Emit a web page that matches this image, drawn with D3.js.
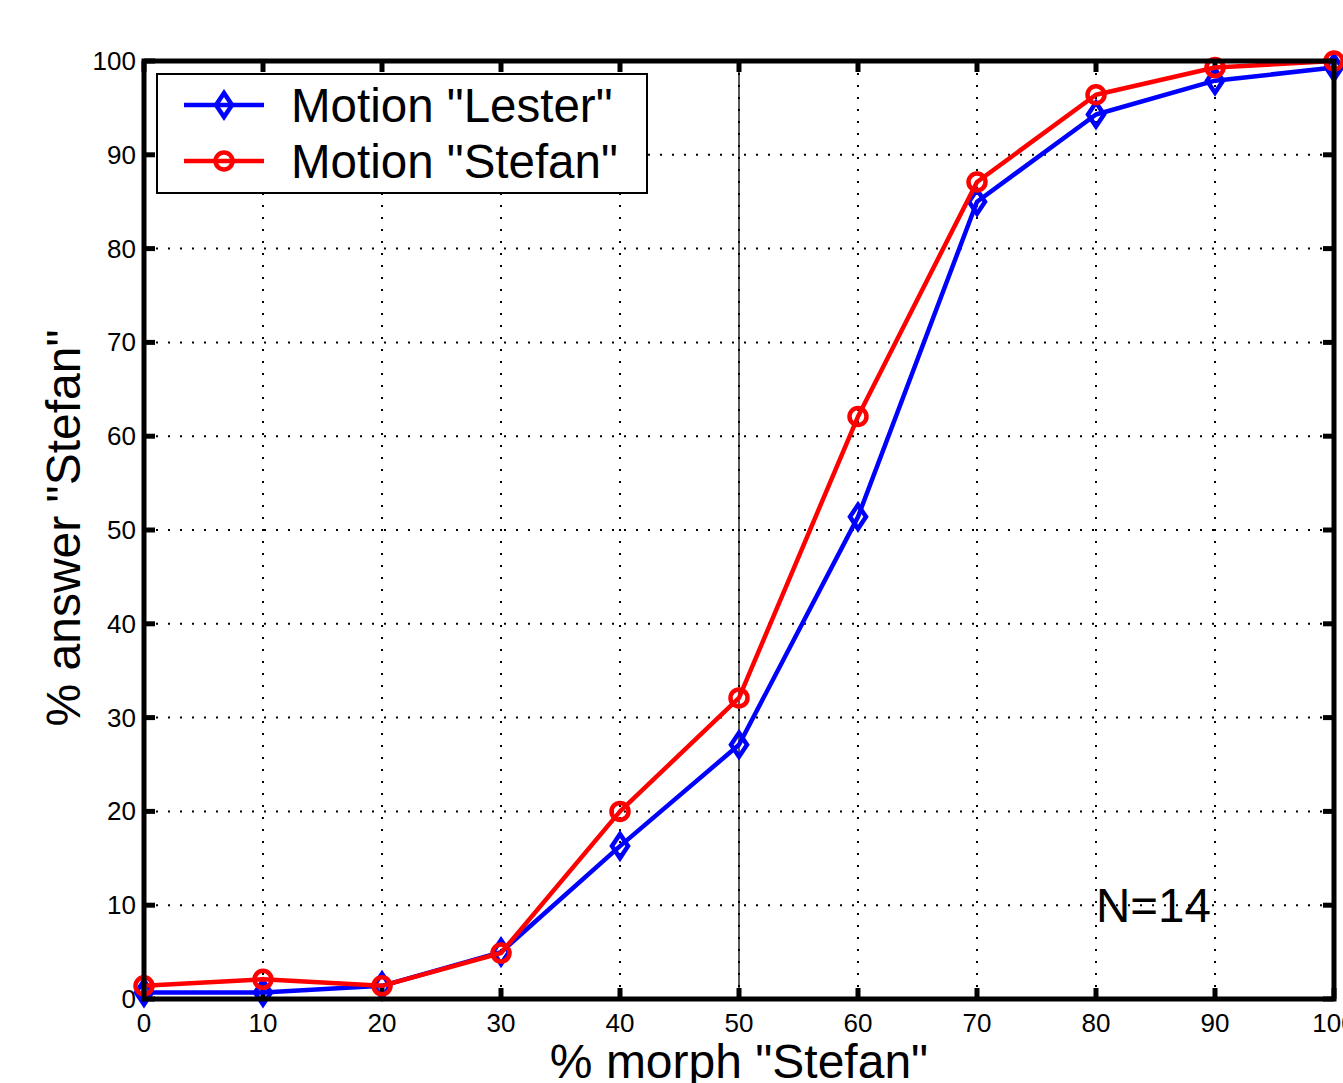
<!DOCTYPE html>
<html>
<head>
<meta charset="utf-8">
<script src="https://cdn.jsdelivr.net/npm/d3@7"></script>
<style>
  body { margin: 0; background: #fff; }
  svg { display: block; font-family: "Liberation Sans", Arial, sans-serif; }
</style>
</head>
<body>
<div id="chart"></div>
<script>
// data
const morph = [0, 10, 20, 30, 40, 50, 60, 70, 80, 90, 100];
const lester = [0.7, 0.7, 1.4, 5.0, 16.3, 27.1, 51.4, 85.0, 94.3, 97.9, 99.3];
const stefan = [1.4, 2.1, 1.4, 4.9, 20.0, 32.1, 62.1, 87.1, 96.4, 99.3, 100];
const xTicks = [0, 10, 20, 30, 40, 50, 60, 70, 80, 90, 100];
const yTicks = [0, 10, 20, 30, 40, 50, 60, 70, 80, 90, 100];
const seriesNames = ['Motion "Lester"', 'Motion "Stefan"'];
const seriesColors = ["#0000ff", "#ff0000"];

const W = 1343, H = 1083;
const margin = {top: 61, right: 9, bottom: 84, left: 144};
const width = 1334 - margin.left, height = 999 - margin.top;

const svg = d3.select("#chart").append("svg")
    .attr("width", W).attr("height", H);

const g = svg.append("g")
    .attr("transform", `translate(${margin.left},${margin.top})`);

const x = d3.scaleLinear().domain([0, 100]).range([0, width]);
const y = d3.scaleLinear().domain([0, 100]).range([height, 0]);

// dotted grid
g.append("g").selectAll("line").data(xTicks.slice(1, -1)).join("line")
    .attr("x1", d => x(d)).attr("x2", d => x(d))
    .attr("y1", 0).attr("y2", height)
    .attr("stroke", "#000").attr("stroke-width", 2)
    .attr("stroke-dasharray", "2,10");
g.append("g").selectAll("line").data(yTicks.slice(1, -1)).join("line")
    .attr("y1", d => y(d)).attr("y2", d => y(d))
    .attr("x1", 0).attr("x2", width)
    .attr("stroke", "#000").attr("stroke-width", 2)
    .attr("stroke-dasharray", "2,10");

// solid reference line at 50%
g.append("line")
    .attr("x1", x(50)).attr("x2", x(50))
    .attr("y1", 0).attr("y2", height)
    .attr("stroke", "#000").attr("stroke-width", 1.3);

// inside ticks on all four sides
const tickLen = 11;
const ticks = g.append("g").attr("stroke", "#000").attr("stroke-width", 5);
xTicks.forEach(t => {
    ticks.append("line").attr("x1", x(t)).attr("x2", x(t)).attr("y1", height).attr("y2", height - tickLen);
    ticks.append("line").attr("x1", x(t)).attr("x2", x(t)).attr("y1", 0).attr("y2", tickLen);
});
yTicks.forEach(t => {
    ticks.append("line").attr("y1", y(t)).attr("y2", y(t)).attr("x1", 0).attr("x2", tickLen);
    ticks.append("line").attr("y1", y(t)).attr("y2", y(t)).attr("x1", width).attr("x2", width - tickLen);
});

// tick labels
g.append("g").selectAll("text").data(xTicks).join("text")
    .attr("x", d => x(d)).attr("y", height + 33)
    .attr("text-anchor", "middle")
    .attr("font-size", 26)
    .text(d => d);
g.append("g").selectAll("text").data(yTicks).join("text")
    .attr("x", -8).attr("y", d => y(d) + 9)
    .attr("text-anchor", "end")
    .attr("font-size", 26)
    .text(d => d);

// series
const line = d3.line().x((d, i) => x(morph[i])).y(d => y(d));
const diamond = (cx, cy) => `M${cx},${cy - 12}L${cx + 8},${cy}L${cx},${cy + 12}L${cx - 8},${cy}Z`;

g.append("path").datum(lester)
    .attr("d", line).attr("fill", "none")
    .attr("stroke", seriesColors[0]).attr("stroke-width", 4.5)
    .attr("stroke-linejoin", "round");
g.append("g").selectAll("path").data(lester).join("path")
    .attr("d", (d, i) => diamond(x(morph[i]), y(d)))
    .attr("fill", "none").attr("stroke", seriesColors[0]).attr("stroke-width", 4.5);

g.append("path").datum(stefan)
    .attr("d", line).attr("fill", "none")
    .attr("stroke", seriesColors[1]).attr("stroke-width", 4.5)
    .attr("stroke-linejoin", "round");
g.append("g").selectAll("circle").data(stefan).join("circle")
    .attr("cx", (d, i) => x(morph[i])).attr("cy", d => y(d))
    .attr("r", 8.5)
    .attr("fill", "none").attr("stroke", seriesColors[1]).attr("stroke-width", 4.5);

// axes box
g.append("rect")
    .attr("x", 0).attr("y", 0).attr("width", width).attr("height", height)
    .attr("fill", "none").attr("stroke", "#000").attr("stroke-width", 5);

// legend
const leg = svg.append("g").attr("transform", "translate(157,74)");
leg.append("rect")
    .attr("width", 490).attr("height", 119)
    .attr("fill", "#fff").attr("stroke", "#000").attr("stroke-width", 2);
seriesNames.forEach((name, i) => {
    const ly = 31 + i * 56;
    leg.append("line")
        .attr("x1", 27).attr("x2", 107).attr("y1", ly).attr("y2", ly)
        .attr("stroke", seriesColors[i]).attr("stroke-width", 4.5);
    if (i === 0) {
        leg.append("path").attr("d", diamond(67, ly))
            .attr("fill", "none").attr("stroke", seriesColors[i]).attr("stroke-width", 4.5);
    } else {
        leg.append("circle").attr("cx", 67).attr("cy", ly).attr("r", 8.5)
            .attr("fill", "none").attr("stroke", seriesColors[i]).attr("stroke-width", 4.5);
    }
    leg.append("text")
        .attr("x", 134).attr("y", ly + 17)
        .attr("font-size", 47.5)
        .text(name);
});

// annotation
g.append("text")
    .attr("x", x(80)).attr("y", y(10) + 17)
    .attr("font-size", 47.5)
    .text("N=14");

// axis titles
svg.append("text")
    .attr("x", margin.left + x(50)).attr("y", 1078)
    .attr("text-anchor", "middle")
    .attr("font-size", 48)
    .text('% morph "Stefan"');
svg.append("text")
    .attr("transform", `translate(80,${margin.top + y(50) - 2}) rotate(-90)`)
    .attr("text-anchor", "middle")
    .attr("font-size", 48)
    .text('% answer "Stefan"');
</script>
</body>
</html>
